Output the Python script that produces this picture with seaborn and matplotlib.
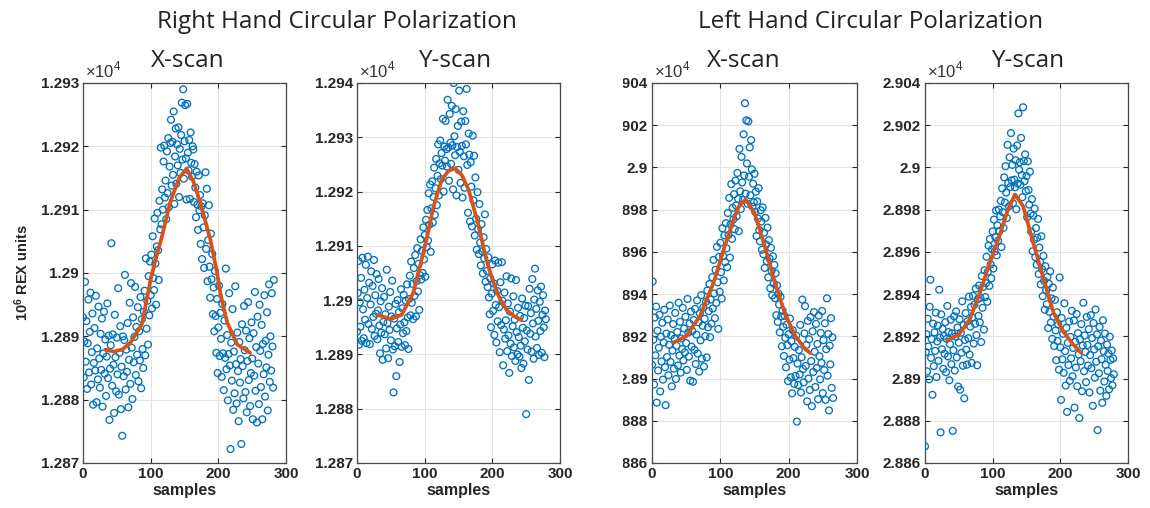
import numpy as np
import pandas as pd
import matplotlib
matplotlib.use("Agg")
import matplotlib.pyplot as plt
import seaborn as sns
from matplotlib.patches import Rectangle

# ---------------------------------------------------------------------------
# Measured signal (REX units) per sample index, and the smoothed fit curves
# ---------------------------------------------------------------------------
rhc_x_scan = [
    12893.0, 12883.5, 12889.2, 12898.6, 12886.0, 12892.4, 12881.7, 12888.9, 12895.8, 12884.3,
    12890.7, 12896.9, 12882.4, 12887.5, 12893.6, 12879.2, 12885.8, 12891.3, 12884.6, 12896.4,
    12879.6, 12888.1, 12883.2, 12894.7, 12886.5, 12881.9, 12890.4, 12884.7, 12892.8, 12878.9,
    12887.3, 12893.9, 12884.1, 12889.5, 12880.6, 12886.8, 12895.2, 12883.4, 12890.1, 12876.8,
    12884.9, 12888.6, 12904.7, 12882.2, 12890.3, 12885.5, 12877.9, 12893.4, 12886.7, 12881.3,
    12889.8, 12884.0, 12897.6, 12880.8, 12887.4, 12891.6, 12878.5, 12885.2, 12874.3, 12890.0,
    12883.7, 12889.4, 12899.7, 12881.6, 12887.9, 12884.4, 12892.1, 12878.8, 12886.3, 12895.3,
    12882.5, 12898.4, 12888.2, 12880.1, 12893.0, 12885.9, 12889.9, 12897.8, 12883.9, 12891.5,
    12887.1, 12894.6, 12882.9, 12890.8, 12886.2, 12896.2, 12881.8, 12892.7, 12888.0, 12885.0,
    12893.9, 12897.2, 12887.0, 12902.3, 12891.2, 12895.6, 12888.7, 12899.5, 12893.3, 12901.8,
    12896.5, 12902.9, 12894.4, 12905.8, 12899.2, 12897.3, 12908.6, 12901.5, 12895.0, 12904.2,
    12909.5, 12903.6, 12898.9, 12911.4, 12906.9, 12919.8, 12907.7, 12913.2, 12910.0, 12917.6,
    12920.1, 12911.9, 12914.6, 12908.5, 12919.2, 12912.6, 12921.3, 12910.4, 12916.8, 12920.5,
    12924.2, 12913.8, 12920.7, 12915.5, 12925.5, 12910.9, 12918.4, 12922.8, 12914.1, 12920.3,
    12917.0, 12923.0, 12912.0, 12919.6, 12915.8, 12921.8, 12926.9, 12917.9, 12929.0, 12914.9,
    12920.8, 12926.5, 12918.1, 12911.6, 12926.7, 12919.0, 12916.2, 12921.0, 12911.7, 12922.2,
    12917.4, 12915.2, 12920.0, 12919.5, 12911.2, 12917.2, 12913.5, 12908.8, 12916.0, 12910.8,
    12906.8, 12915.4, 12909.9, 12912.3, 12904.6, 12910.5, 12902.2, 12911.0, 12907.2, 12900.8,
    12909.1, 12915.9, 12903.8, 12913.3, 12898.7, 12905.2, 12910.7, 12901.0, 12896.1, 12906.2,
    12899.0, 12903.0, 12893.5, 12897.7, 12890.8, 12900.3, 12893.2, 12887.4, 12895.9, 12884.2,
    12891.4, 12898.0, 12886.9, 12893.7, 12889.6, 12883.6, 12895.1, 12887.3, 12881.5, 12892.5,
    12886.6, 12900.7, 12884.8, 12890.2, 12879.9, 12887.2, 12896.8, 12885.4, 12872.2, 12889.0,
    12883.0, 12894.3, 12878.4, 12887.6, 12881.0, 12897.9, 12885.6, 12879.4, 12890.6, 12884.5,
    12876.6, 12889.1, 12882.7, 12886.4, 12873.0, 12891.9, 12885.3, 12880.2, 12894.8, 12887.8,
    12881.2, 12890.9, 12878.0, 12886.1, 12895.4, 12883.1, 12889.7, 12879.0, 12884.2, 12892.2,
    12886.5, 12876.9, 12890.5, 12883.8, 12897.0, 12881.4, 12888.3, 12876.4, 12893.1, 12885.7,
    12879.3, 12895.0, 12887.7, 12882.0, 12891.8, 12876.9, 12888.8, 12884.0, 12896.5, 12880.5,
    12889.3, 12885.1, 12893.8, 12878.3, 12887.1, 12898.2, 12882.8, 12890.0, 12884.6, 12896.8,
    12888.4, 12881.9, 12898.9,
]
rhc_x_fit_samples = [33, 45, 58, 70, 87, 100, 109, 117, 129, 142, 153, 163, 173, 188, 198, 203, 213, 228, 247]
rhc_x_fit_values = [12887.9, 12887.6, 12887.9, 12889.0, 12891.9, 12899.0, 12902.8, 12905.9, 12911.2, 12915.0,
                    12916.5, 12914.5, 12911.2, 12905.4, 12900.1, 12896.8, 12892.2, 12888.7, 12887.4]

rhc_y_scan = [
    12894.2, 12901.3, 12907.2, 12891.8, 12899.6, 12895.1, 12904.1, 12892.5, 12907.8, 12898.3,
    12893.0, 12901.9, 12896.4, 12906.5, 12892.1, 12900.4, 12908.0, 12895.6, 12903.2, 12891.9,
    12899.2, 12905.3, 12894.7, 12902.6, 12896.9, 12907.4, 12893.4, 12900.9, 12897.5, 12904.8,
    12892.8, 12898.1, 12903.9, 12895.3, 12890.2, 12899.8, 12894.0, 12902.2, 12889.0, 12896.0,
    12900.6, 12893.7, 12897.4, 12891.1, 12905.6, 12895.8, 12889.3, 12898.8, 12894.5, 12901.5,
    12892.6, 12897.0, 12903.6, 12890.9, 12883.0, 12896.6, 12891.5, 12899.3, 12886.0, 12894.8,
    12900.0, 12892.3, 12897.8, 12888.6, 12895.5, 12902.0, 12891.4, 12898.5, 12893.9, 12901.0,
    12895.9, 12891.7, 12899.9, 12894.3, 12902.9, 12896.8, 12891.0, 12900.2, 12904.5, 12897.2,
    12907.1, 12899.5, 12903.0, 12896.5, 12905.9, 12900.8, 12908.3, 12897.0, 12903.5, 12909.6,
    12901.6, 12906.7, 12898.2, 12904.6, 12911.2, 12903.8, 12909.1, 12905.0, 12913.4, 12907.5,
    12912.0, 12904.3, 12914.8, 12909.8, 12916.6, 12911.0, 12919.7, 12913.9, 12921.3, 12908.9,
    12916.9, 12921.9, 12914.3, 12919.0, 12924.4, 12915.7, 12920.6, 12926.0, 12917.5, 12922.9,
    12928.7, 12919.3, 12925.2, 12929.4, 12922.3, 12927.1, 12924.8, 12933.4, 12920.0, 12928.3,
    12925.7, 12933.0, 12927.8, 12924.6, 12936.9, 12928.1, 12922.0, 12934.3, 12929.0, 12925.1,
    12935.8, 12928.5, 12920.4, 12940.0, 12930.2, 12926.7, 12935.2, 12919.3, 12928.2, 12932.1,
    12924.0, 12938.6, 12927.3, 12921.6, 12932.9, 12928.4, 12918.9, 12934.8, 12926.5, 12920.7,
    12933.0, 12928.7, 12938.9, 12924.9, 12916.1, 12930.7, 12926.8, 12914.5, 12925.4, 12920.9,
    12913.6, 12930.3, 12918.4, 12926.6, 12911.9, 12922.6, 12915.0, 12909.3, 12919.9, 12913.1,
    12908.5, 12917.7, 12910.6, 12906.4, 12914.0, 12909.0, 12904.9, 12911.6, 12907.7, 12915.8,
    12903.4, 12909.4, 12905.4, 12902.4, 12907.9, 12900.5, 12897.4, 12904.0, 12895.0, 12901.2,
    12906.6, 12898.0, 12903.1, 12893.6, 12907.3, 12899.1, 12892.2, 12901.7, 12896.1, 12906.9,
    12898.7, 12890.4, 12903.3, 12895.4, 12907.0, 12899.9, 12888.0, 12894.6, 12901.4, 12892.9,
    12896.3, 12904.4, 12890.6, 12899.4, 12893.5, 12886.6, 12897.9, 12892.0, 12904.0, 12889.7,
    12895.2, 12900.7, 12891.3, 12896.4, 12888.8, 12903.7, 12894.1, 12890.0, 12898.6, 12893.2,
    12889.6, 12897.1, 12891.6, 12887.5, 12900.3, 12894.9, 12888.3, 12896.7, 12892.4, 12899.0,
    12879.0, 12894.4, 12890.9, 12898.9, 12885.3, 12902.1, 12893.8, 12897.6, 12890.5, 12903.9,
    12895.7, 12889.2, 12900.1, 12905.8, 12893.3, 12898.4, 12891.2, 12901.8, 12896.2, 12889.9,
    12899.7, 12894.3, 12902.5, 12890.3, 12897.3, 12900.9, 12895.0, 12889.5, 12898.1, 12896.5,
]
rhc_y_fit_samples = [31, 49, 66, 83, 93, 103, 113, 125, 135, 145, 155, 165, 179, 190, 200, 210, 221, 233, 243]
rhc_y_fit_values = [12897.3, 12896.5, 12897.3, 12901.3, 12906.2, 12911.3, 12917.2, 12922.1, 12923.8, 12924.3,
                    12923.0, 12920.3, 12914.1, 12908.0, 12903.8, 12900.6, 12898.2, 12897.0, 12896.3]

lhc_x_scan = [
    28906.5, 28946.0, 28918.4, 28897.2, 28928.9, 28911.0, 28934.1, 28888.6, 28922.7, 28903.8,
    28914.6, 28930.2, 28893.9, 28919.8, 28908.1, 28926.4, 28899.5, 28917.1, 28932.6, 28905.4,
    28887.4, 28921.3, 28910.2, 28928.0, 28901.6, 28916.0, 28934.6, 28907.9, 28920.5, 28896.3,
    28913.2, 28925.8, 28904.7, 28918.9, 28931.1, 28899.8, 28915.5, 28922.1, 28906.2, 28935.9,
    28910.9, 28926.9, 28902.8, 28919.0, 28914.0, 28933.5, 28908.6, 28923.7, 28912.4, 28929.3,
    28916.8, 28904.1, 28937.7, 28921.8, 28910.4, 28926.1, 28899.0, 28931.7, 28915.1, 28922.5,
    28898.5, 28927.7, 28913.6, 28933.0, 28906.9, 28920.8, 28937.0, 28911.8, 28926.6, 28903.3,
    28930.8, 28918.1, 28939.5, 28909.4, 28925.0, 28933.7, 28905.7, 28928.3, 28920.1, 28936.4,
    28910.0, 28941.7, 28924.3, 28931.9, 28944.8, 28919.6, 28937.4, 28926.0, 28948.0, 28933.2,
    28956.2, 28940.3, 28928.6, 28951.5, 28935.8, 28962.4, 28945.6, 28923.5, 28957.6, 28941.1,
    28964.3, 28950.4, 28937.9, 28971.2, 28958.0, 28946.5, 28967.8, 28955.1, 28973.6, 28961.7,
    28952.7, 28978.4, 28968.0, 28985.6, 28957.3, 28973.0, 28992.1, 28966.2, 28980.9, 28975.4,
    28987.3, 28970.7, 28993.8, 28982.0, 28976.9, 28997.4, 28985.1, 28969.8, 29008.8, 28988.7,
    28980.3, 29005.0, 28992.9, 28984.6, 29015.7, 28996.2, 29030.4, 28987.6, 29022.3, 29001.9,
    28982.8, 29021.8, 28995.6, 29009.5, 28986.8, 29013.0, 28999.1, 28981.4, 28992.3, 28983.5,
    28997.0, 28978.9, 28988.5, 28967.5, 28983.9, 28975.8, 28990.2, 28970.3, 28965.0, 28979.7,
    28974.4, 28961.0, 28981.1, 28958.9, 28969.1, 28952.4, 28976.1, 28963.5, 28955.6, 28971.5,
    28947.9, 28965.6, 28956.8, 28942.8, 28961.9, 28951.0, 28939.4, 28957.9, 28945.0, 28953.8,
    28938.1, 28949.9, 28930.0, 28944.1, 28926.8, 28940.2, 28935.1, 28921.9, 28938.7, 28929.4,
    28915.3, 28932.2, 28924.5, 28910.7, 28929.7, 28919.3, 28905.3, 28925.5, 28915.8, 28898.8,
    28921.0, 28908.9, 28928.4, 28900.6, 28917.7, 28893.0, 28922.9, 28909.7, 28897.5, 28915.0,
    28901.2, 28920.3, 28879.6, 28907.1, 28896.9, 28913.5, 28901.9, 28925.4, 28893.4, 28910.1,
    28937.4, 28904.5, 28898.2, 28921.4, 28934.3, 28906.0, 28915.9, 28889.2, 28927.3, 28900.0,
    28918.6, 28894.6, 28929.1, 28908.3, 28886.9, 28922.4, 28903.1, 28931.5, 28912.7, 28896.0,
    28925.9, 28905.0, 28916.4, 28890.2, 28929.8, 28910.6, 28899.6, 28921.6, 28907.4, 28932.0,
    28893.1, 28918.2, 28904.0, 28926.2, 28889.9, 28913.9, 28938.0, 28901.4, 28921.1, 28884.9,
    28915.6, 28906.7, 28928.6, 28895.6, 28919.5, 28890.8,
]
lhc_x_fit_samples = [32, 50, 70, 90, 105, 120, 128, 137, 150, 165, 180, 195, 210, 225, 232]
lhc_x_fit_values = [28917.2, 28920.0, 28929.5, 28945.3, 28961.1, 28976.1, 28982.0, 28984.8, 28978.5,
                    28962.7, 28945.3, 28930.3, 28920.0, 28913.7, 28912.1]

lhc_y_scan = [
    28867.9, 28912.5, 28921.0, 28903.4, 28928.3, 28915.2, 28899.6, 28934.0, 28946.8, 28909.8,
    28918.7, 28892.3, 28926.0, 28905.9, 28921.9, 28913.1, 28931.2, 28900.7, 28917.6, 28925.1,
    28908.4, 28942.1, 28919.4, 28874.5, 28930.4, 28913.9, 28923.5, 28904.6, 28920.2, 28911.7,
    28926.7, 28903.0, 28918.8, 28934.4, 28910.5, 28922.0, 28899.2, 28916.3, 28927.9, 28906.8,
    28921.4, 28875.2, 28913.4, 28929.5, 28903.8, 28919.9, 28931.8, 28910.0, 28924.2, 28896.2,
    28917.0, 28928.1, 28894.7, 28921.7, 28912.2, 28936.6, 28906.1, 28925.3, 28890.6, 28918.3,
    28931.0, 28913.7, 28906.6, 28927.2, 28919.1, 28938.8, 28911.3, 28924.6, 28933.9, 28907.4,
    28929.0, 28939.2, 28916.6, 28935.0, 28925.9, 28942.6, 28920.6, 28906.3, 28937.6, 28929.7,
    28944.1, 28926.6, 28938.2, 28917.3, 28948.6, 28933.5, 28943.4, 28923.2, 28951.3, 28938.6,
    28945.2, 28957.7, 28936.4, 28950.6, 28962.9, 28943.9, 28966.1, 28954.0, 28947.5, 28961.2,
    28969.7, 28952.1, 28975.3, 28960.2, 28967.0, 28979.6, 28958.4, 28972.6, 28965.3, 28980.1,
    28969.9, 28976.7, 28984.2, 28962.3, 28990.1, 28978.8, 28971.4, 28995.3, 28983.4, 29000.6,
    28988.1, 28976.0, 29010.7, 28992.6, 28981.5, 29004.8, 28990.7, 29016.3, 28993.9, 29001.2,
    28983.0, 29008.9, 28994.2, 28990.6, 29003.4, 28980.2, 29010.4, 28992.4, 29025.6, 28998.9,
    29002.5, 28991.8, 29014.0, 28996.4, 28985.9, 29028.5, 29003.0, 28993.5, 29006.2, 28988.8,
    28995.9, 28976.4, 29002.9, 28989.3, 28982.4, 28998.0, 28978.1, 28969.6, 28985.0, 28960.3,
    28977.2, 28965.8, 28980.5, 28957.5, 28971.3, 28953.9, 28966.7, 28975.6, 28949.5, 28962.0,
    28955.3, 28944.6, 28967.4, 28951.8, 28939.0, 28958.1, 28946.3, 28932.6, 28953.2, 28941.9,
    28935.2, 28948.2, 28923.9, 28944.9, 28931.6, 28950.8, 28926.5, 28938.0, 28918.8, 28943.1,
    28929.3, 28915.4, 28937.3, 28922.8, 28908.7, 28931.4, 28917.8, 28925.6, 28904.2, 28947.9,
    28914.8, 28889.9, 28928.7, 28909.1, 28921.2, 28902.7, 28935.6, 28913.0, 28896.7, 28924.0,
    28884.2, 28916.9, 28906.4, 28927.0, 28898.9, 28919.7, 28909.6, 28932.1, 28901.1, 28914.5,
    28927.5, 28886.2, 28917.4, 28905.2, 28930.6, 28896.4, 28921.5, 28911.4, 28881.3, 28918.5,
    28908.2, 28925.8, 28894.0, 28915.7, 28935.9, 28903.5, 28920.4, 28912.6, 28898.3, 28929.2,
    28915.9, 28906.2, 28923.4, 28893.4, 28911.1, 28930.0, 28904.9, 28919.2, 28887.1, 28926.3,
    28913.8, 28900.4, 28932.7, 28908.0, 28920.9, 28875.6, 28915.3, 28902.5, 28924.4, 28894.3,
    28918.0, 28909.2, 28888.5, 28927.6, 28912.9, 28898.6, 28921.3, 28906.5, 28891.8, 28916.1,
    28903.6, 28911.9, 28894.9, 28919.8, 28908.8, 28900.2, 28913.3, 28896.8, 28909.5, 28902.0,
]
lhc_y_fit_samples = [33, 50, 66, 81, 94, 110, 122, 133, 145, 160, 177, 190, 204, 218, 231]
lhc_y_fit_values = [28918.1, 28920.8, 28927.9, 28940.5, 28953.2, 28967.5, 28979.5, 28987.2, 28981.6,
                    28964.3, 28945.3, 28931.1, 28922.4, 28916.5, 28912.1]

# Axis ticks and labels
x_ticks = [0, 100, 200, 300]
x_tick_labels = ["0", "100", "200", "300"]
rhc_x_yticks = [12870, 12880, 12890, 12900, 12910, 12920, 12930]
rhc_x_ylabels = ["1.287", "1.288", "1.289", "1.29", "1.291", "1.292", "1.293"]
rhc_y_yticks = [12870, 12880, 12890, 12900, 12910, 12920, 12930, 12940]
rhc_y_ylabels = ["1.287", "1.288", "1.289", "1.29", "1.291", "1.292", "1.293", "1.294"]
lhc_yticks = [28860, 28880, 28900, 28920, 28940, 28960, 28980, 29000, 29020, 29040]
lhc_ylabels = ["2.886", "2.888", "2.89", "2.892", "2.894", "2.896", "2.898", "2.9", "2.902", "2.904"]

group_titles = ["Right Hand Circular Polarization", "Left Hand Circular Polarization"]
scan_titles = ["X-scan", "Y-scan", "X-scan", "Y-scan"]

# ---------------------------------------------------------------------------
BLUE = "#0072BD"
ORANGE = "#D95319"
INK = "#262626"

sns.set_theme(style="ticks")
plt.rcParams["font.family"] = ["Liberation Sans", "DejaVu Sans"]
plt.rcParams["mathtext.fontset"] = "custom"
plt.rcParams["mathtext.rm"] = "Liberation Sans"
plt.rcParams["mathtext.bf"] = "Liberation Sans:bold"

W, H = 1150, 508
fig = plt.figure(figsize=(W / 100, H / 100), dpi=100)
fig.patch.set_facecolor("white")

panels = [
    dict(vals=rhc_x_scan, fs=rhc_x_fit_samples, fv=rhc_x_fit_values,
         yt=rhc_x_yticks, yl=rhc_x_ylabels, lr=(83, 286)),
    dict(vals=rhc_y_scan, fs=rhc_y_fit_samples, fv=rhc_y_fit_values,
         yt=rhc_y_yticks, yl=rhc_y_ylabels, lr=(357, 560)),
    dict(vals=lhc_x_scan, fs=lhc_x_fit_samples, fv=lhc_x_fit_values,
         yt=lhc_yticks, yl=lhc_ylabels, lr=(652, 857)),
    dict(vals=lhc_y_scan, fs=lhc_y_fit_samples, fv=lhc_y_fit_values,
         yt=lhc_yticks, yl=lhc_ylabels, lr=(925, 1128)),
]
top_px, bottom_px = 83, 463

for p in panels:
    left, right = p["lr"]
    ax = fig.add_axes([left / W, 1 - bottom_px / H, (right - left) / W, (bottom_px - top_px) / H])
    scan = pd.DataFrame({"samples": np.arange(len(p["vals"])), "rex": p["vals"]})
    fit = pd.DataFrame({"samples": p["fs"], "rex": p["fv"]})
    sns.scatterplot(data=scan, x="samples", y="rex", ax=ax, marker="o", s=24,
                    facecolor="none", edgecolor=BLUE, linewidth=0.95, zorder=3)
    sns.lineplot(data=fit, x="samples", y="rex", ax=ax, color=ORANGE,
                 linewidth=2.7, zorder=4)
    ax.set_xlim(0, 300)
    ax.set_ylim(p["yt"][0], p["yt"][-1])
    ax.set_xticks(x_ticks)
    ax.set_xticklabels(x_tick_labels)
    ax.set_yticks(p["yt"])
    ax.set_yticklabels(p["yl"])
    ax.grid(True, color="#e3e3e3", linewidth=0.8)
    ax.set_axisbelow(True)
    ax.tick_params(direction="in", top=True, right=True, length=3.5, width=0.8,
                   color=INK, labelcolor=INK, labelsize=11, pad=3)
    for lab in ax.get_xticklabels() + ax.get_yticklabels():
        lab.set_fontweight("bold")
    for sp in ax.spines.values():
        sp.set_color("#4a4a4a")
        sp.set_linewidth(0.9)
    ax.set_xlabel("samples", fontweight="bold", fontsize=11.5, color=INK, labelpad=1)
    ax.set_ylabel("")
    ax.text(0.01, 1.006, r"$\times10^{4}$", transform=ax.transAxes, ha="left",
            va="bottom", fontsize=12, color="#333333")

# Left edge of the left-hand group is trimmed
fig.add_artist(Rectangle((578 / W, 0.05), (623 - 578) / W, 0.85,
                         transform=fig.transFigure, facecolor="white",
                         edgecolor="none", zorder=20))

fig.text(22 / W, 1 - 272 / H, r"$\mathbf{10^{6}}$ REX units", rotation=90,
         ha="center", va="center", fontsize=10.5, fontweight="bold", color=INK)

title_font = dict(family=["Open Sans", "DejaVu Sans"], color="#222222")
fig.text(337 / W, 1 - 28 / H, group_titles[0], ha="center", va="baseline",
         fontsize=17.5, **title_font)
fig.text(871 / W, 1 - 28 / H, group_titles[1], ha="center", va="baseline",
         fontsize=17.5, **title_font)
for cx, t in zip([188, 455, 744, 1028], scan_titles):
    fig.text(cx / W, 1 - 67 / H, t, ha="center", va="baseline", fontsize=17.5,
             **title_font)

fig.savefig("out.png", dpi=100, facecolor="white")
